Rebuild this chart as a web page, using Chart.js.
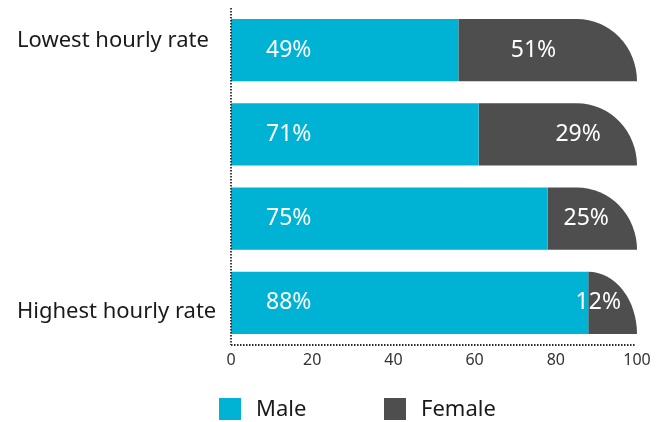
<!DOCTYPE html>
<html>
<head>
<meta charset="utf-8">
<script src="https://cdn.jsdelivr.net/npm/chart.js@4"></script>
<style>
  html, body { margin: 0; padding: 0; background: #fff; }
  #wrap { width: 656px; height: 422px; }
</style>
</head>
<body>
<div id="wrap"><canvas id="myChart" width="656" height="422"></canvas></div>
<script>
// hourly rate bands, top to bottom
const categories = ['Lowest hourly rate', '', '', 'Highest hourly rate'];
const maleShare = [56, 61, 78, 88];     // bar lengths as drawn
const femaleShare = [44, 39, 22, 12];
const maleLabels = [49, 71, 75, 88];    // printed percentages
const femaleLabels = [51, 29, 25, 12];

const MALE = '#00b3d4';
const FEMALE = '#4d4e4d';
const FONT = "'Noto Sans', sans-serif";

// outer labels sit a little off the bar centre (top one up, bottom one down)
const yLabels = categories.map((c, i) => {
    if (i === 0) return [c, ''];
    if (i === categories.length - 1) return ['', c];
    return c;
});

// female bars get a big rounded top-right corner
const roundedEnd = {
    id: 'roundedEnd',
    beforeDatasetDraw(chart, args) {
        if (args.index !== 1) return;
        const ctx = chart.ctx;
        ctx.save();
        ctx.fillStyle = FEMALE;
        args.meta.data.forEach(el => {
            const x0 = el.base, x1 = el.x;
            const top = el.y - el.height / 2, bot = el.y + el.height / 2;
            const rx = Math.min(60, x1 - x0), ry = el.height;
            ctx.beginPath();
            ctx.moveTo(x0, top);
            ctx.lineTo(x1 - rx, top);
            ctx.ellipse(x1 - rx, bot, rx, ry, 0, -Math.PI / 2, 0);
            ctx.lineTo(x0, bot);
            ctx.closePath();
            ctx.fill();
        });
        ctx.restore();
        return false;
    }
};

// white percentage labels inside the bars
const barLabels = {
    id: 'barLabels',
    afterDatasetsDraw(chart) {
        const ctx = chart.ctx;
        const xs = chart.scales.x;
        const area = chart.chartArea;
        ctx.save();
        ctx.fillStyle = '#fff';
        ctx.font = '23px ' + FONT;
        ctx.textBaseline = 'middle';
        chart.getDatasetMeta(0).data.forEach((el, i) => {
            ctx.textAlign = 'left';
            ctx.fillText(maleLabels[i] + '%', area.left + 35, el.y);
            const t = femaleLabels[i] + '%';
            const w = ctx.measureText(t).width;
            let cx = xs.getPixelForValue(maleLabels[i] + femaleLabels[i] / 2);
            cx = Math.min(cx, area.right - 16 - w / 2);
            ctx.textAlign = 'center';
            ctx.fillText(t, cx, el.y);
        });
        ctx.restore();
    }
};

// dotted axis lines (border.dash only affects grid lines in v4)
const dottedAxes = {
    id: 'dottedAxes',
    afterDatasetsDraw(chart) {
        const ctx = chart.ctx;
        const a = chart.chartArea;
        ctx.save();
        ctx.strokeStyle = '#2a2a2a';
        ctx.lineWidth = 1.8;
        ctx.setLineDash([1.5, 1.5]);
        ctx.beginPath();
        ctx.moveTo(a.left, a.top);
        ctx.lineTo(a.left, a.bottom);
        ctx.moveTo(a.left, a.bottom);
        ctx.lineTo(a.right - 2, a.bottom);
        ctx.stroke();
        ctx.restore();
    }
};

// legend drawn under the axis
const bottomLegend = {
    id: 'bottomLegend',
    afterDraw(chart) {
        const ctx = chart.ctx;
        const area = chart.chartArea;
        const y = 398;
        let x = area.left - 12;
        ctx.save();
        ctx.font = '22px ' + FONT;
        ctx.textBaseline = 'middle';
        ctx.textAlign = 'left';
        chart.data.datasets.forEach(ds => {
            ctx.fillStyle = ds.backgroundColor;
            ctx.fillRect(x, y, 22, 22);
            ctx.fillStyle = '#1a1a1a';
            ctx.fillText(ds.label, x + 37, y + 12);
            x += 165;
        });
        ctx.restore();
    }
};

new Chart(document.getElementById('myChart'), {
    type: 'bar',
    data: {
        labels: yLabels,
        datasets: [
            { label: 'Male', data: maleShare, backgroundColor: MALE },
            { label: 'Female', data: femaleShare, backgroundColor: FEMALE }
        ]
    },
    options: {
        indexAxis: 'y',
        responsive: false,
        animation: false,
        categoryPercentage: 1,
        barPercentage: 0.736,
        layout: { padding: { left: 17, top: 8, right: 19, bottom: 0 } },
        scales: {
            x: {
                stacked: true,
                min: 0,
                max: 100,
                grid: { display: false },
                border: { display: false },
                ticks: { stepSize: 20, color: '#333', padding: -2, font: { family: FONT, size: 16 } },
                afterFit(scale) { scale.height = 77; }
            },
            y: {
                stacked: true,
                grid: { display: false },
                border: { display: false },
                ticks: { color: '#1a1a1a', crossAlign: 'far', padding: 18, font: { family: FONT, size: 22, lineHeight: '18px' } },
                afterFit(scale) {
                    scale.width = 214;
                    scale.paddingTop = 0;
                    scale.paddingBottom = 0;
                }
            }
        },
        plugins: {
            legend: { display: false },
            tooltip: { enabled: false }
        }
    },
    plugins: [roundedEnd, barLabels, dottedAxes, bottomLegend]
});
</script>
</body>
</html>
